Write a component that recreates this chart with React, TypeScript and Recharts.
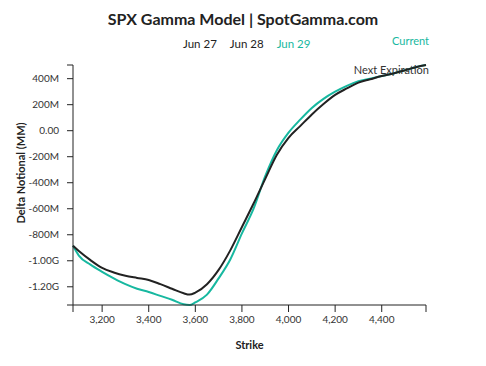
import { LineChart, Line, XAxis, YAxis, Label } from "recharts";

const strikes = [
  3075, 3100, 3150, 3200, 3250, 3300, 3350, 3400, 3450, 3500, 3550, 3575, 3600, 3650, 3700, 3750, 3800,
  3850, 3900, 3950, 4000, 4050, 4100, 4150, 4200, 4250, 4300, 4350, 4400, 4450, 4500, 4550, 4590,
];

// delta notional in millions
const current = [
  -885, -960, -1030, -1085, -1135, -1180, -1215, -1240, -1270, -1300, -1335, -1340, -1320, -1260, -1135,
  -990, -790, -600, -350, -150, -15, 85, 175, 245, 300, 345, 380, 400, 420, 440, 465, 490, 505,
];

const nextExpiration = [
  -885, -925, -995, -1055, -1090, -1115, -1132, -1148, -1180, -1215, -1250, -1260, -1245, -1180, -1070,
  -920, -740, -560, -370, -185, -55, 35, 125, 205, 275, 325, 370, 395, 420, 440, 465, 490, 505,
];

const xTicks = [3075, 3200, 3400, 3600, 3800, 4000, 4200, 4400, 4590];
const yTicks = [-1340, -1200, -1000, -800, -600, -400, -200, 0, 200, 400, 505];
const dates = ["Jun 27", "Jun 28", "Jun 29"];

const data = strikes.map((s, i) => ({ strike: s, current: current[i], next: nextExpiration[i] }));

const TEAL = "#17b8a0";
const DARK = "#222";
const FONT = "Lato, 'Open Sans', sans-serif";

function fmtY(v: number): string {
  if (v === -1340 || v === 505) return "";
  if (v === 0) return "0.00";
  if (Math.abs(v) >= 1000) return (v / 1000).toFixed(2) + "G";
  return v + "M";
}

function fmtX(v: number): string {
  if (v === 3075 || v === 4590) return "";
  return v.toLocaleString("en-US");
}

export default function App() {
  return (
    <div style={{ position: "relative", width: 486, height: 366, fontFamily: FONT, background: "#fff" }}>
      <style>{"body{margin:0}"}</style>
      <div
        style={{
          position: "absolute",
          top: 9,
          left: 0,
          width: 486,
          textAlign: "center",
          fontWeight: 700,
          fontSize: 16,
          color: "#222",
        }}
      >
        SPX Gamma Model | SpotGamma.com
      </div>
      <div style={{ position: "absolute", top: 37, left: 183, fontSize: 11.5, color: "#222", display: "flex", gap: 13 }}>
        {dates.map((d, i) => (
          <span key={d} style={{ color: i === dates.length - 1 ? TEAL : "#222" }}>
            {d}
          </span>
        ))}
      </div>
      <div style={{ position: "absolute", top: 34, right: 57, fontSize: 11, color: TEAL }}>Current</div>
      <div style={{ position: "absolute", top: 63, right: 57, fontSize: 11, color: "#333" }}>Next Expiration</div>
      <div style={{ position: "absolute", top: 0, left: 0 }}>
        <LineChart width={486} height={366} data={data} margin={{ top: 65, right: 60, bottom: 31, left: 0 }}>
          <XAxis
            dataKey="strike"
            type="number"
            domain={[3075, 4590]}
            ticks={xTicks}
            tickFormatter={fmtX}
            interval={0}
            height={30}
            tickSize={7}
            tickMargin={4}
            stroke="#222"
            tick={{ fill: "#333", fontSize: 10, fontFamily: FONT }}
          >
            <Label value="Strike" position="bottom" offset={6} style={{ fontWeight: 700, fontSize: 11, fill: "#222", fontFamily: FONT }} />
          </XAxis>
          <YAxis
            type="number"
            domain={[-1340, 505]}
            ticks={yTicks}
            tickFormatter={fmtY}
            interval={0}
            width={73}
            tickSize={6}
            tickMargin={8}
            stroke="#222"
            tick={{ fill: "#333", fontSize: 10, fontFamily: FONT }}
          >
            <Label
              value="Delta Notional (MM)"
              angle={-90}
              position="insideLeft"
              offset={14}
              dy={-12}
              dx={7}
              style={{ fontWeight: 700, fontSize: 11, fill: "#222", fontFamily: FONT, textAnchor: "middle" }}
            />
          </YAxis>
          <Line dataKey="current" type="monotone" stroke={TEAL} strokeWidth={2} dot={false} isAnimationActive={false} />
          <Line dataKey="next" type="monotone" stroke={DARK} strokeWidth={2} dot={false} isAnimationActive={false} />
        </LineChart>
      </div>
    </div>
  );
}
